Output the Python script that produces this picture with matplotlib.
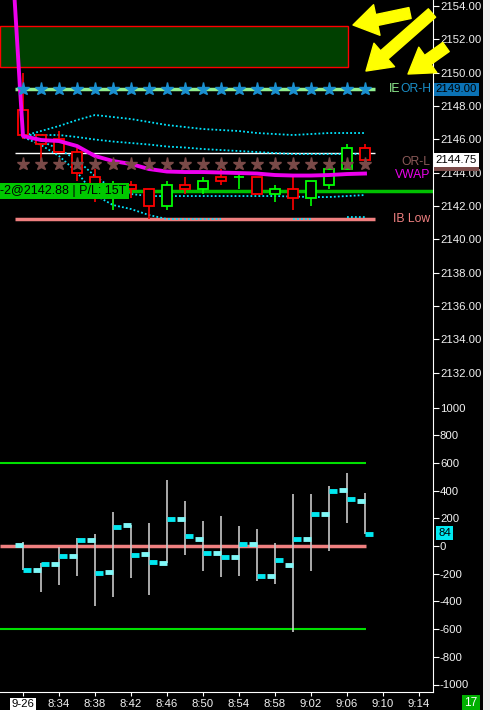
import matplotlib
matplotlib.use("Agg")
import matplotlib.pyplot as plt
import matplotlib.transforms as mtransforms
from matplotlib.patches import Rectangle
import numpy as np

plt.rcParams['font.family'] = ['Liberation Sans', 'DejaVu Sans']

#----------------------------------------------------------------
# Data (2 minute bars from 8:30)
#----------------------------------------------------------------
bar_idx = list(range(20))

price_open = [2147.75, 2146.25, 2146.0, 2145.25, 2143.75, 2142.75, 2143.25, 2143.0, 2142.0, 2143.25,
              2143.0, 2143.75, 2143.75, 2143.75, 2142.75, 2143.0, 2142.5, 2143.25, 2144.25, 2145.5]
price_high = [2150.0, 2146.25, 2146.5, 2145.5, 2144.25, 2143.5, 2143.5, 2143.0, 2143.5, 2143.75,
              2143.75, 2144.25, 2144.0, 2143.75, 2143.25, 2143.75, 2143.5, 2144.25, 2145.75, 2145.75]
price_low = [2146.0, 2144.5, 2145.25, 2143.5, 2142.25, 2141.75, 2142.5, 2141.25, 2141.75, 2142.75,
             2142.75, 2143.25, 2143.0, 2142.75, 2142.25, 2141.75, 2142.0, 2143.0, 2144.25, 2144.5]
price_close = [2146.25, 2145.75, 2145.25, 2144.0, 2143.0, 2143.0, 2143.0, 2142.0, 2143.25, 2143.0,
               2143.5, 2143.5, 2143.75, 2142.75, 2143.0, 2142.5, 2143.5, 2144.25, 2145.5, 2144.75]

# vwap and bands (first two points come in from the previous session)
lead_idx = [-0.5, -0.17]
vwap_lead = [2155.0, 2149.1]
vwap = [2146.2, 2145.96, 2145.9, 2145.6, 2145.0, 2144.7, 2144.52, 2144.22, 2144.07, 2144.04,
        2144.04, 2144.01, 2143.98, 2143.95, 2143.86, 2143.83, 2143.83, 2143.86, 2143.92, 2143.95]
upper_band2 = [2146.2, 2146.5, 2146.8, 2147.16, 2147.46, 2147.34, 2147.22, 2147.04, 2146.86, 2146.74,
               2146.62, 2146.56, 2146.5, 2146.38, 2146.32, 2146.26, 2146.32, 2146.38, 2146.38, 2146.38]
upper_band1 = [2146.26, 2146.26, 2146.26, 2146.14, 2145.99, 2145.87, 2145.78, 2145.69, 2145.57, 2145.51,
               2145.42, 2145.36, 2145.3, 2145.24, 2145.18, 2145.12, 2145.12, 2145.12, 2145.12, 2145.12]
lower_band1 = [2146.2, 2145.9, 2145.42, 2144.76, 2143.8, 2143.02, 2142.72, 2142.6, 2142.6, 2142.6,
               2142.6, 2142.6, 2142.6, 2142.6, 2142.6, 2142.57, 2142.54, 2142.54, 2142.6, 2142.66]
lower_band2 = [2146.14, 2145.66, 2145.0, 2144.04, 2142.66, 2142.06, 2141.82, 2141.46, 2141.22, 2141.22,
               2141.22, 2141.22, np.nan, np.nan, np.nan, 2141.22, 2141.22, np.nan, 2141.34, 2141.34]

zone_low = 2150.32
zone_high = 2152.78
ieor_high = 2149.0
or_low = 2144.5
white_level = 2145.2
entry_price = 2142.88
ib_low = 2141.25
last_price = 2144.75

# lower study (open/close dashes and high/low range)
delta_open = [10, -175, -131, -74, 41, -189, 155, -60, -124, 198,
              48, -53, -81, 14, -218, -139, 48, 234, 406, 328]
delta_close = [-175, -131, -74, 41, -196, 134, -67, -117, 198, 69,
               -53, -81, 14, -218, -103, 48, 234, 399, 342, 84]
delta_high = [29, -124, -5, 55, 84, 249, 155, 165, 478, 323,
              179, 215, 141, 122, 19, 373, 373, 430, 530, 380]
delta_low = [-175, -335, -285, -220, -435, -370, -234, -351, -124, -65,
             -179, -227, -213, -256, -277, -621, -177, -33, 167, 84]

time_ticks = [0, 2, 4, 6, 8, 10, 12, 14, 16, 18, 20, 22]
time_labels = ['9-26', '8:34', '8:38', '8:42', '8:46', '8:50', '8:54', '8:58', '9:02', '9:06', '9:10', '9:14']
price_ticks = list(range(2132, 2155, 2))
delta_ticks = list(range(-1000, 1001, 200))

#----------------------------------------------------------------
# Figure layout
#----------------------------------------------------------------
W, H = 490, 710
fig = plt.figure(figsize=(W / 100, H / 100), dpi=100, facecolor='black')
ax1 = fig.add_axes([0, 1 - 392 / H, 433 / W, 392 / H], facecolor='black')
ax2 = fig.add_axes([0, 18 / H, 433 / W, 300 / H], facecolor='black')

x_left = -23 / 18
x_right = (433 - 23) / 18
line_x0 = (15 - 23) / 18
line_x1 = (375 - 23) / 18

for ax in (ax1, ax2):
    ax.set_xlim(x_left, x_right)
    for side in ('top', 'left', 'bottom'):
        ax.spines[side].set_visible(False)
    ax.spines['right'].set_color('white')
    ax.yaxis.tick_right()
    ax.tick_params(axis='y', direction='out', length=4, colors='white', labelcolor='#f2f2f2',
                   labelsize=8.2, pad=1)

ax1.set_ylim(2154 - 386 / 16.67, 2154 + 6 / 16.67)
ax1.tick_params(axis='x', bottom=False, labelbottom=False)
ax1.set_yticks(price_ticks)
ax1.set_yticklabels(['%.2f' % p for p in price_ticks])

ax2.set_ylim((546 - 692) / 0.1385, (546 - 392) / 0.1385)
ax2.spines['bottom'].set_visible(True)
ax2.spines['bottom'].set_color('white')
ax2.set_yticks(delta_ticks)
ax2.set_yticklabels([str(v) for v in delta_ticks])
ax2.set_xticks(time_ticks)
ax2.set_xticklabels(time_labels)
ax2.tick_params(axis='x', direction='out', length=3, colors='white', labelcolor='#f2f2f2',
                labelsize=8.2, pad=2)
lbl = ax2.get_xticklabels()[0]
lbl.set_color('black')
lbl.set_bbox(dict(facecolor='white', edgecolor='none', pad=1))

#----------------------------------------------------------------
# Upper panel: zones, levels, bands, candles
#----------------------------------------------------------------
ax1.add_patch(Rectangle((x_left, zone_low), 18.06 - x_left, zone_high - zone_low,
                        facecolor='#004000', edgecolor='#ff0000', linewidth=1, zorder=1))

ax1.hlines(ieor_high, line_x0, line_x1, color='#90ee90', linewidth=2.5, zorder=2)
ax1.hlines(white_level, line_x0, line_x1, color='white', linewidth=1, zorder=2)
ax1.hlines(ib_low, line_x0, line_x1, color='#f08080', linewidth=2.5, zorder=2)
ax1.axhline(entry_price, color='#00c000', linewidth=2.5, zorder=2)

band_x = lead_idx + bar_idx
for band in (upper_band2, upper_band1, lower_band1, lower_band2):
    ax1.plot(band_x, vwap_lead + band, color='#00e5ff', linestyle=(0, (1, 1.2)), linewidth=1.3, zorder=2)

colors = ['#ff0000' if c < o else '#00ff00' for o, c in zip(price_open, price_close)]
ax1.vlines(bar_idx, price_low, price_high, colors=colors, linewidth=1.2, zorder=3)
body_low = [min(o, c) for o, c in zip(price_open, price_close)]
body_h = [max(abs(c - o), 0.02) for o, c in zip(price_open, price_close)]
ax1.bar(bar_idx, body_h, bottom=body_low, width=0.6, facecolor='black', edgecolor=colors,
        linewidth=1.3, zorder=3)

ax1.plot(band_x, vwap_lead + vwap, color='#ee00ee', linewidth=2.8, zorder=4)

ax1.plot(bar_idx, [ieor_high] * 20, linestyle='none', marker='*', markersize=9.5,
         color='#1a8fd0', zorder=5)
ax1.plot(bar_idx, [or_low] * 20, linestyle='none', marker='*', markersize=9.5,
         color='#7a4a48', zorder=5)

# level names on the right
lab_x = (430 - 23) / 18
ax1.text((400 - 23) / 18, ieor_high, 'IE', color='#90ee90', fontsize=8.7, ha='right', va='center')
ax1.text((400 - 23) / 18, ieor_high, 'OR-H', color='#1a8fc8', fontsize=8.7, ha='left', va='center')
ax1.text(lab_x, or_low + 0.12, 'OR-L', color='#8b5a58', fontsize=8.7, ha='right', va='center')
ax1.text(lab_x, 2143.85, 'VWAP', color='#ee00ee', fontsize=8.7, ha='right', va='center')
ax1.text(lab_x, ib_low, 'IB Low', color='#f08080', fontsize=8.7, ha='right', va='center')

ax1.text(x_left + 0.02, entry_price, '-2@2142.88 | P/L: 15T', color='black', fontsize=9,
         ha='left', va='center', zorder=6,
         bbox=dict(facecolor='#00c800', edgecolor='none', pad=1.5))

# price boxes on the axis
trans1 = mtransforms.blended_transform_factory(ax1.transAxes, ax1.transData)
ax1.text(1.006, ieor_high, '2149.00', transform=trans1, color='black', fontsize=8.2,
         ha='left', va='center', clip_on=False,
         bbox=dict(facecolor='#0b72b5', edgecolor='none', pad=1.2))
ax1.add_patch(Rectangle((1.002, 2144.1), 0.105, 0.24, transform=trans1, facecolor='#7a4a48',
                        edgecolor='none', clip_on=False, zorder=6))
ax1.text(1.006, last_price, '2144.75', transform=trans1, color='black', fontsize=8.2,
         ha='left', va='center', clip_on=False, zorder=7,
         bbox=dict(facecolor='white', edgecolor='none', pad=1.2))

#----------------------------------------------------------------
# Lower panel
#----------------------------------------------------------------
ax2.hlines([600, -600], x_left, 19.06, color='#00e000', linewidth=1.5, zorder=2)
ax2.hlines(0, x_left, 19.06, color='#f08080', linewidth=2.5, zorder=2)
ax2.vlines(bar_idx, delta_low, delta_high, color='#c8c8c8', linewidth=1.2, zorder=3)
ax2.hlines(delta_open, [i - 0.42 for i in bar_idx], bar_idx, color='#80f8f8', linewidth=3.5, zorder=4)
ax2.hlines(delta_close, bar_idx, [i + 0.42 for i in bar_idx], color='#00e8f0', linewidth=3.5, zorder=4)

trans2 = mtransforms.blended_transform_factory(ax2.transAxes, ax2.transData)
ax2.text(1.012, delta_close[-1] + 10, '84', transform=trans2, color='black', fontsize=8.2,
         ha='left', va='center', clip_on=False,
         bbox=dict(facecolor='#00e8f0', edgecolor='none', pad=1.2))

#----------------------------------------------------------------
# Figure decorations: yellow arrows, right strip, counter box
#----------------------------------------------------------------
arrow_style = 'simple,head_length=0.7,head_width=0.9,tail_width=0.32'
for tail, head in (((410, 697), (353, 685)), ((432, 697), (366, 639)), ((446, 663), (408, 636))):
    ax1.annotate('', xy=head, xytext=tail, xycoords='figure pixels', textcoords='figure pixels',
                 annotation_clip=False,
                 arrowprops=dict(arrowstyle=arrow_style, color='#ffff00', mutation_scale=25,
                                 shrinkA=0, shrinkB=0, capstyle='round'))

fig.patches.append(Rectangle((483 / W, 0), 7 / W, 1, transform=fig.transFigure,
                             facecolor='#f0f0f0', edgecolor='none'))
fig.text(471 / W, 7 / H, '17', color='white', fontsize=8.5, ha='center', va='center',
         bbox=dict(facecolor='#00b000', edgecolor='none', pad=1.5))

fig.savefig('out.png', dpi=100, facecolor='black')
